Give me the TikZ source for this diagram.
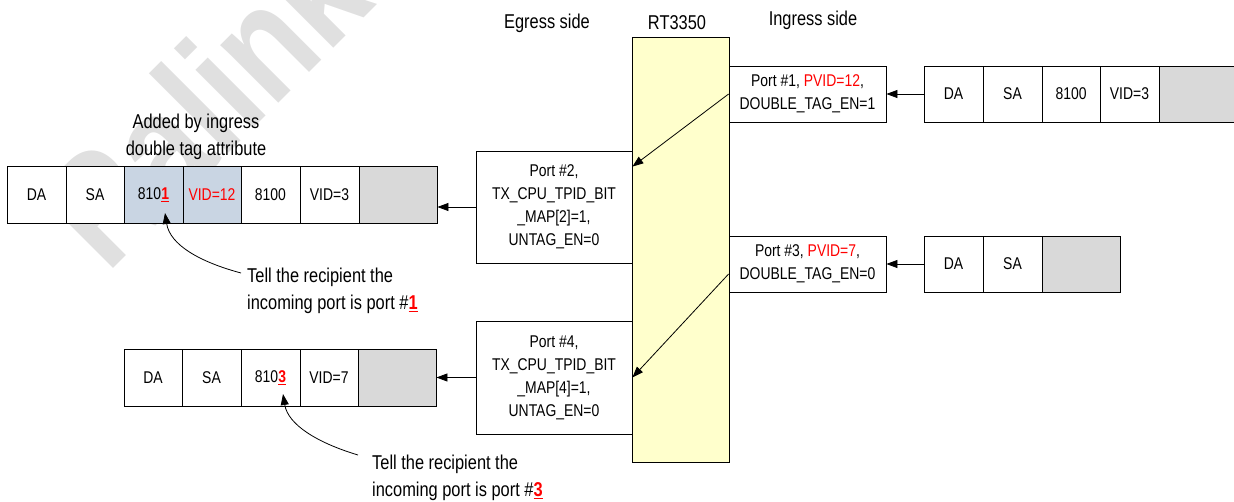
\documentclass[tikz,border=0pt]{standalone}
\usepackage{fontspec}
\setmainfont{Liberation Sans}[FakeStretch=0.82]
\usetikzlibrary{arrows.meta,calc}
\definecolor{ylw}{HTML}{FFFFCC}
\definecolor{cellgray}{HTML}{D9D9D9}
\definecolor{cellblue}{HTML}{C9D5E3}
\definecolor{wmgray}{HTML}{E0E0E0}
\newcommand\fsz[2]{\fontsize{#1}{#2}\selectfont}
\newcommand\rednum[1]{\textcolor{red}{\underline{\textbf{#1}}}}
\begin{document}
\begin{tikzpicture}[x=1pt,y=-1pt,
  cell/.style={draw, line width=0.8pt, inner sep=0pt, font=\fsz{17}{20}},
  portbox/.style={draw, line width=0.8pt, fill=white, inner sep=0pt, align=center, font=\fsz{17}{23}},
  lbl/.style={inner sep=0pt, font=\fsz{20}{27}},
  arr/.style={line width=0.8pt, -{Triangle[length=11pt,width=8pt]}}]
\useasboundingbox (0,0) rectangle (1234,502);
% watermark
\node[rotate=45, text=wmgray, inner sep=0pt, font=\bfseries\fsz{155}{155}] (wm) at (203,100) {Ralink};
% chip
\node[draw, line width=0.8pt, fill=ylw, minimum width=97pt, minimum height=425pt, inner sep=0pt] (chip) at (680.5,249.5) {};
% headings
\node[lbl] (eg) at (547,23) {Egress side};
\node[lbl] (rt) at (677,23) {RT3350};
\node[lbl] (ig) at (813,20) {Ingress side};
% port boxes
\node[portbox, minimum width=157pt, minimum height=56pt] (p1) at (807.5,94) {Port \#1, \textcolor{red}{PVID=12},\\DOUBLE\_TAG\_EN=1};
\node[portbox, minimum width=157pt, minimum height=56pt] (p3) at (807.5,264) {Port \#3, \textcolor{red}{PVID=7},\\DOUBLE\_TAG\_EN=0};
\node[portbox, minimum width=156pt, minimum height=112pt] (p2) at (554,207) {Port \#2,\\TX\_CPU\_TPID\_BIT\\\_MAP[2]=1,\\UNTAG\_EN=0};
\node[portbox, minimum width=156pt, minimum height=113pt] (p4) at (554,377.5) {Port \#4,\\TX\_CPU\_TPID\_BIT\\\_MAP[4]=1,\\UNTAG\_EN=0};
% frame 1 (ingress port 1)
\node[cell, fill=white, minimum width=59pt, minimum height=56pt] (f1a) at (953.5,94) {DA};
\node[cell, fill=white, minimum width=59pt, minimum height=56pt] (f1b) at (1012.5,94) {SA};
\node[cell, fill=white, minimum width=58pt, minimum height=56pt] (f1c) at (1071,94) {8100};
\node[cell, fill=white, minimum width=59pt, minimum height=56pt] (f1d) at (1129.5,94) {VID=3};
\node[cell, fill=cellgray, minimum width=77pt, minimum height=56pt] (f1e) at (1197.5,94) {};
% frame 3 (ingress port 3)
\node[cell, fill=white, minimum width=59pt, minimum height=56pt] (f3a) at (953.5,264) {DA};
\node[cell, fill=white, minimum width=59pt, minimum height=56pt] (f3b) at (1012.5,264) {SA};
\node[cell, fill=cellgray, minimum width=78pt, minimum height=56pt] (f3c) at (1081,264) {};
% frame 2 (egress port 2)
\node[cell, fill=white, minimum width=59pt, minimum height=57pt] (f2a) at (36.5,194.5) {DA};
\node[cell, fill=white, minimum width=58pt, minimum height=57pt] (f2b) at (95,194.5) {SA};
\node[cell, fill=cellblue, minimum width=59pt, minimum height=57pt] (f2c) at (153.5,194.5) {810\rednum{1}};
\node[cell, fill=cellblue, minimum width=58pt, minimum height=57pt, text=red] (f2d) at (212,194.5) {VID=12};
\node[cell, fill=white, minimum width=59pt, minimum height=57pt] (f2e) at (270.5,194.5) {8100};
\node[cell, fill=white, minimum width=59pt, minimum height=57pt] (f2f) at (329.5,194.5) {VID=3};
\node[cell, fill=cellgray, minimum width=78pt, minimum height=57pt] (f2g) at (398,194.5) {};
% frame 4 (egress port 4)
\node[cell, fill=white, minimum width=58pt, minimum height=57pt] (f4a) at (153,377.5) {DA};
\node[cell, fill=white, minimum width=59pt, minimum height=57pt] (f4b) at (211.5,377.5) {SA};
\node[cell, fill=white, minimum width=59pt, minimum height=57pt] (f4c) at (270.5,377.5) {810\rednum{3}};
\node[cell, fill=white, minimum width=58pt, minimum height=57pt] (f4d) at (329,377.5) {VID=7};
\node[cell, fill=cellgray, minimum width=78pt, minimum height=57pt] (f4e) at (397,377.5) {};
% labels
\node[lbl, align=center] (added) at (196,137) {Added by ingress\\double tag attribute};
\node[lbl, align=left, anchor=west] (tell1) at (247,291) {Tell the recipient the\\incoming port is port \#\rednum{1}};
\node[lbl, align=left, anchor=west] (tell3) at (372,478) {Tell the recipient the\\incoming port is port \#\rednum{3}};
\coordinate (c1) at (241,273);
\coordinate (c3) at (358,455);
\coordinate (t1) at (165,213);
\coordinate (t3) at (283,394);
% connectors
\draw[arr] (f1a.west) -- (p1.east);
\draw[arr] (f3a.west) -- (p3.east);
\draw[arr] (p2.west) -- (p2.west -| f2g.east);
\draw[arr] (p4.west) -- (f4e.east);
\draw[arr] (p1.west) -- ($(p2.north east)+(0,16)$);
\draw[arr] ($(p3.west)+(0,10)$) -- (p4.east);
\draw[arr] (c1) .. controls (200,262) and (170,245) .. (t1);
\draw[arr] (c3) .. controls (318,443) and (288,425) .. (t3);
\end{tikzpicture}
\end{document}
